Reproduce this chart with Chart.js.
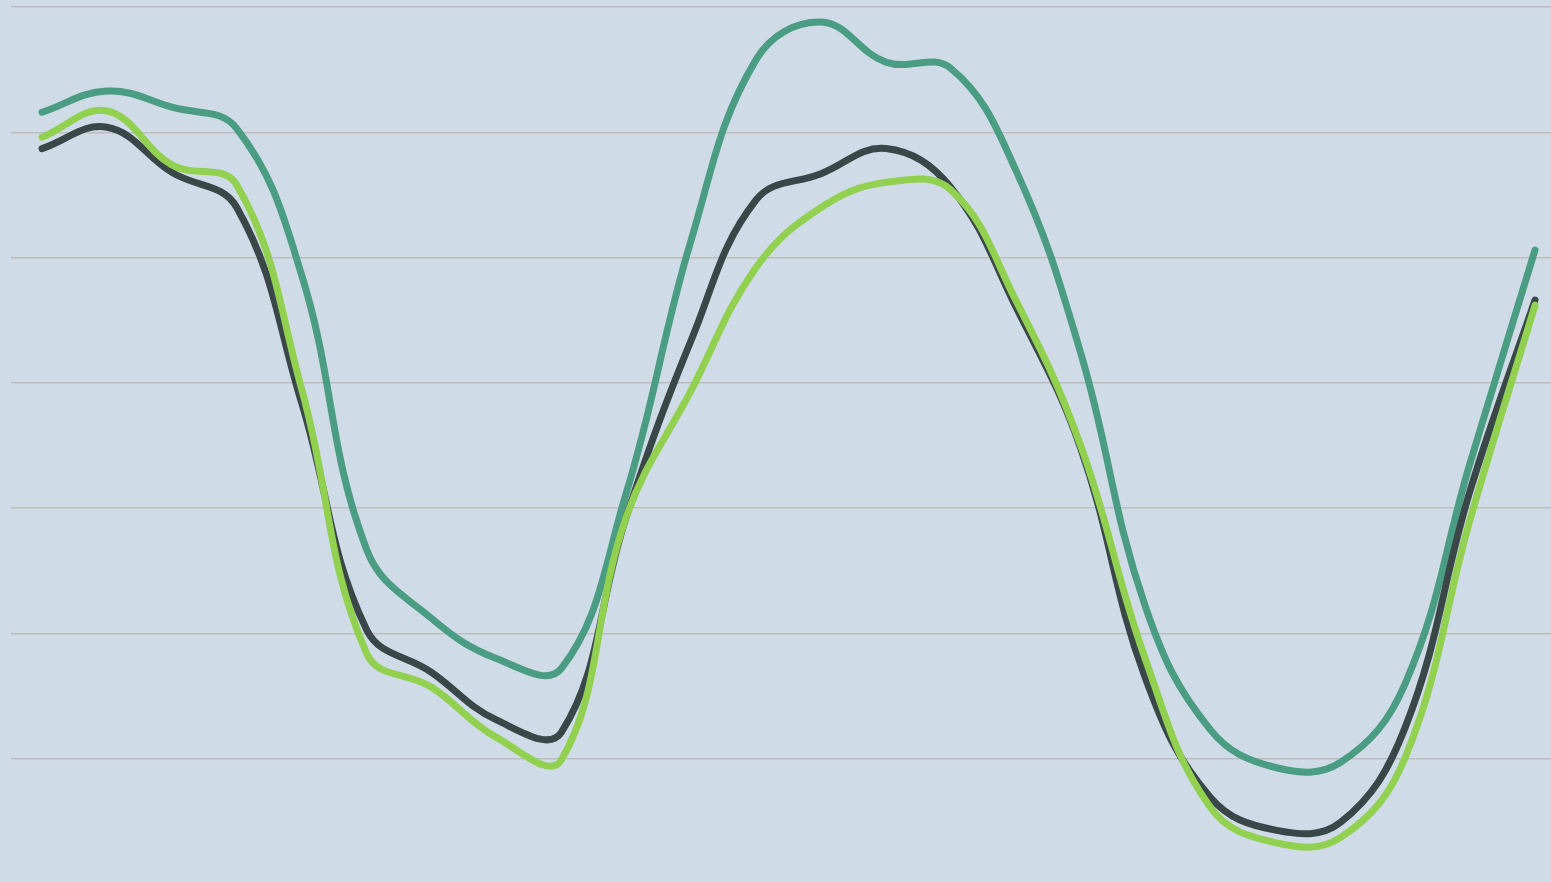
<!DOCTYPE html>
<html>
<head>
<meta charset="utf-8">
<script src="https://cdn.jsdelivr.net/npm/chart.js@4/dist/chart.umd.min.js"></script>
<style>
  html, body { margin: 0; padding: 0; background: #cfdbe6; overflow: hidden; }
  #wrap { width: 1551px; height: 882px; }
</style>
</head>
<body>
<div id="wrap"><canvas id="c" width="1551" height="882"></canvas></div>
<script>
// Hours of the day (categories)
const hours = ['00','01','02','03','04','05','06','07','08','09','10','11','12','13','14','15','16','17','18','19','20','21','22','23'];

// Series values (gridlines every 10 units)
const tealSeries = [61.6, 63.3, 62.0, 60.3, 48.6, 26.7, 21.2, 18.0, 17.2, 31.2, 51.4, 65.8, 68.8, 65.6, 65.1, 57.0, 42.4, 22.1, 12.3, 9.3, 9.7, 16.0, 33.6, 50.6];
const darkSeries = [58.7, 60.4, 56.8, 54.0, 38.4, 20.3, 16.9, 13.1, 12.1, 29.3, 43.4, 54.6, 56.7, 58.7, 55.6, 46.1, 34.8, 16.4, 6.9, 4.3, 4.9, 12.5, 31.4, 46.6];
const greenSeries = [59.6, 61.7, 57.4, 55.8, 39.5, 18.4, 15.7, 11.7, 9.9, 29.3, 39.4, 49.2, 54.0, 56.0, 55.4, 46.6, 35.0, 17.9, 6.1, 3.3, 3.7, 10.1, 29.1, 46.2];

// Y gridline tick values
const yTicks = [0, 10, 20, 30, 40, 50, 60, 70];

const toPoints = arr => arr.map((v, i) => ({ x: i, y: v }));

const lineStyle = {
  borderWidth: 7,
  pointRadius: 0,
  pointHoverRadius: 0,
  tension: 0.4,
  borderCapStyle: 'round',
  borderJoinStyle: 'round',
  fill: false
};

new Chart(document.getElementById('c'), {
  type: 'line',
  data: {
    labels: hours,
    datasets: [
      Object.assign({ label: 'C', data: toPoints(greenSeries), borderColor: '#92d050' }, lineStyle),
      Object.assign({ label: 'B', data: toPoints(darkSeries), borderColor: '#3a4748' }, lineStyle),
      Object.assign({ label: 'A', data: toPoints(tealSeries), borderColor: '#4a9c82' }, lineStyle)
    ]
  },
  options: {
    responsive: false,
    animation: false,
    events: [],
    layout: { padding: { top: 7, left: 11, right: 0, bottom: 0 } },
    plugins: { legend: { display: false }, tooltip: { enabled: false }, title: { display: false } },
    scales: {
      x: {
        type: 'linear',
        min: -0.478,
        max: 23.246,
        display: false
      },
      y: {
        min: 0.16,
        max: 70,
        afterBuildTicks: axis => { axis.ticks = yTicks.filter(v => v >= axis.min && v <= axis.max).map(v => ({ value: v })); },
        ticks: { display: false },
        border: { display: false },
        grid: { color: '#bdbdbd', lineWidth: 1.5, drawTicks: false }
      }
    }
  }
});
</script>
</body>
</html>
